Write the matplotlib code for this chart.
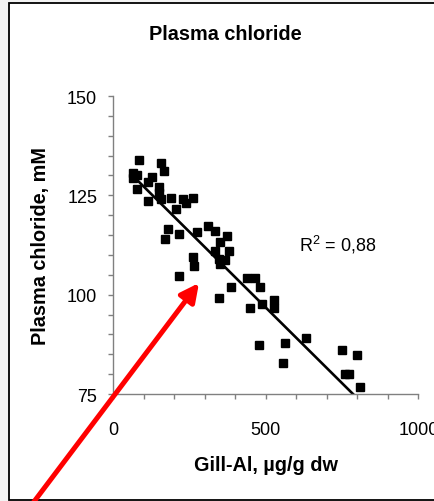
import numpy as np
import matplotlib
matplotlib.use("Agg")
import matplotlib.pyplot as plt
from matplotlib.patches import Rectangle, FancyArrowPatch
from matplotlib.ticker import MultipleLocator

plt.rcParams["font.family"] = ["Liberation Sans", "DejaVu Sans"]
plt.rcParams["mathtext.default"] = "regular"

# Gill-Al (ug/g dw) vs plasma chloride (mM)
gill_al = [83, 156, 165, 66, 66, 79, 127, 113, 79, 149, 149, 115, 156, 190,
           230, 239, 261, 207, 178, 215, 170, 274, 309, 333, 373, 349, 333,
           378, 345, 367, 351, 261, 266, 215, 386, 438, 345, 466, 482, 449,
           488, 526, 526, 476, 564, 556, 632, 750, 799, 761, 774, 808]
chloride = [133.8, 133.1, 131.1, 130.6, 129.4, 130.1, 129.7, 128.4, 126.6,
            127.1, 125.5, 123.6, 124.0, 124.4, 124.1, 123.2, 124.4, 121.5,
            116.5, 115.3, 114.0, 115.7, 117.4, 116.1, 114.8, 113.3, 110.9,
            110.9, 109.1, 108.7, 107.8, 109.5, 107.2, 104.6, 101.9, 104.3,
            99.1, 104.2, 101.9, 96.6, 97.7, 98.6, 96.6, 87.4, 87.8, 82.8,
            89.1, 86.2, 84.7, 80.1, 80.1, 76.7]
# linear trendline as drawn in the original
trend_intercept = 134.8
trend_slope = -0.0761
r2_label = "R$^2$ = 0,88"

x = np.array(gill_al, dtype=float)
y = np.array(chloride, dtype=float)

fig = plt.figure(figsize=(4.34, 5.02), dpi=100, facecolor="#f3f3f3")
fig.add_artist(Rectangle((9 / 434, 1.5 / 502), 1.1, 497 / 502,
                         transform=fig.transFigure, facecolor="white",
                         edgecolor="black", linewidth=1.3, zorder=0))

ax = fig.add_axes([0.2611, 0.2131, 0.7028, 0.5936])
ax.patch.set_visible(False)

line_x = np.array([x.min(), x.max()])
ax.plot(line_x, trend_intercept + trend_slope * line_x, color="black", lw=1.9, zorder=2)
ax.plot(x, y, "s", color="black", ms=5.6, zorder=3)

ax.text(610, 111, r2_label, fontsize=13, va="baseline", ha="left")

ax.set_xlim(0, 1000)
ax.set_ylim(75, 150)
ax.xaxis.set_major_locator(MultipleLocator(500))
ax.xaxis.set_minor_locator(MultipleLocator(100))
ax.yaxis.set_major_locator(MultipleLocator(25))
ax.yaxis.set_minor_locator(MultipleLocator(5))

for side in ("top", "right"):
    ax.spines[side].set_visible(False)
for side in ("left", "bottom"):
    ax.spines[side].set_color("#808080")
    ax.spines[side].set_linewidth(1.0)

ax.tick_params(which="both", direction="out", color="#808080", width=1.0,
               length=3.6, labelsize=13)
ax.tick_params(axis="x", which="major", pad=16)
ax.tick_params(axis="y", which="major", pad=8)

ax.set_xlabel("Gill-Al, µg/g dw", fontsize=14.3, fontweight="bold", va="center")
ax.xaxis.set_label_coords(0.5, -0.238)
ax.set_ylabel("Plasma chloride, mM", fontsize=14.3, fontweight="bold", va="center")
ax.yaxis.set_label_coords(-0.239, 0.5)

fig.text(0.5196, 0.932, "Plasma chloride", fontsize=14.3, fontweight="bold",
         ha="center", va="center")

arrow = FancyArrowPatch((33 / 434, -0.004), (199 / 434, 1 - 284 / 502),
                        transform=fig.transFigure,
                        arrowstyle="-|>,head_length=11,head_width=5.5",
                        mutation_scale=1, lw=3.6, color="red",
                        shrinkA=0, shrinkB=0, zorder=10)
fig.add_artist(arrow)

fig.savefig("out.png", dpi=100, facecolor=fig.get_facecolor())
